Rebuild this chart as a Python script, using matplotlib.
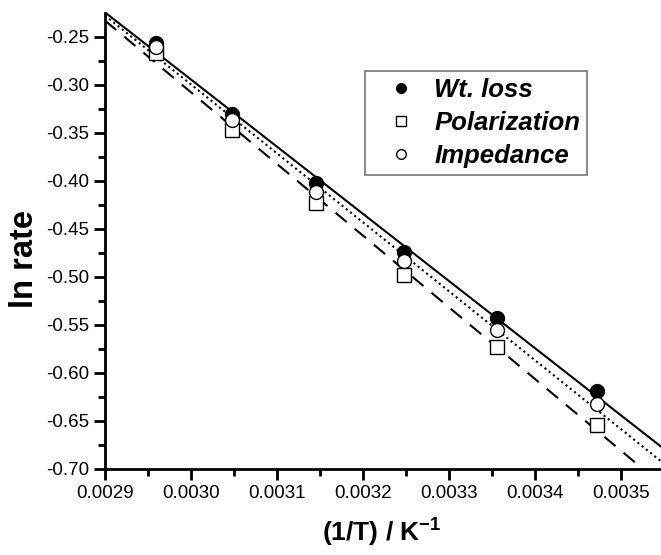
import numpy as np
import matplotlib
matplotlib.use("Agg")
import matplotlib.pyplot as plt
from matplotlib.ticker import MultipleLocator, FormatStrFormatter

invT = [0.002959, 0.003047, 0.003145, 0.003247, 0.003356, 0.003472]
wt_loss = [-0.2562, -0.3308, -0.4025, -0.4745, -0.5432, -0.6185]
polarization = [-0.2670, -0.3470, -0.4235, -0.4980, -0.5734, -0.6542]
impedance = [-0.2604, -0.3367, -0.4114, -0.4830, -0.5553, -0.6324]

plt.rcParams['font.family'] = ['Liberation Sans', 'DejaVu Sans']
plt.rcParams['mathtext.fontset'] = 'custom'
plt.rcParams['mathtext.rm'] = 'Liberation Sans'
plt.rcParams['mathtext.bf'] = 'Liberation Sans:bold'
plt.rcParams['axes.unicode_minus'] = False

fig = plt.figure(figsize=(6.61, 5.55), dpi=100)
ax = fig.add_axes([0.1589, 0.155, 0.8411, 0.8216])

xlim = (0.0029, 0.003546)
xx = np.array(xlim)
x = np.array(invT)
for ys, ls in [(wt_loss, '-'), (polarization, (0, (7, 5))), (impedance, (0, (1, 1.6)))]:
    p = np.polyfit(x, ys, 1)
    ax.plot(xx, np.polyval(p, xx), color='black', linestyle=ls, lw=1.5, zorder=2)

ax.plot(invT, wt_loss, 'o', color='black', ms=10, label='Wt. loss', zorder=3)
ax.plot(invT, polarization, 's', mfc='white', mec='black', mew=1.0, ms=9.5, label='Polarization', zorder=3)
ax.plot(invT, impedance, 'o', mfc='white', mec='black', mew=1.0, ms=10, label='Impedance', zorder=4)

ax.set_xlim(*xlim)
ax.set_ylim(-0.70, -0.2253)
ax.xaxis.set_major_locator(MultipleLocator(0.0001))
ax.xaxis.set_minor_locator(MultipleLocator(0.00005))
ax.yaxis.set_major_locator(MultipleLocator(0.05))
ax.yaxis.set_minor_locator(MultipleLocator(0.025))
ax.xaxis.set_major_formatter(FormatStrFormatter('%.4f'))
ax.yaxis.set_major_formatter(FormatStrFormatter('%.2f'))

for s in ['top', 'right']:
    ax.spines[s].set_visible(False)
for s in ['left', 'bottom']:
    ax.spines[s].set_linewidth(2)
ax.tick_params(which='major', direction='out', length=8, width=2, labelsize=13.5)
ax.tick_params(which='minor', direction='out', length=5, width=2)

ax.set_xlabel('(1/T) / K$^{\\mathbf{-1}}$', fontsize=19, fontweight='bold')
ax.xaxis.set_label_coords(0.498, -0.138, transform=ax.transAxes)
ax.xaxis.label.set_va('center')
ax.set_ylabel('ln rate', fontsize=23.5, fontweight='bold')
ax.yaxis.set_label_coords(-0.145, 0.46)
ax.yaxis.label.set_va('center')

leg = ax.legend(loc='upper left', bbox_to_anchor=(0.445, 0.902), frameon=True, fancybox=False,
                edgecolor='#555555', handletextpad=0.2, borderpad=0.28, labelspacing=0.36,
                markerscale=0.7, handlelength=2.2,
                prop={'family': 'Liberation Sans', 'weight': 'bold', 'style': 'italic', 'size': 18.5})
leg.get_frame().set_linewidth(1.2)

fig.savefig('out.png', dpi=100)
